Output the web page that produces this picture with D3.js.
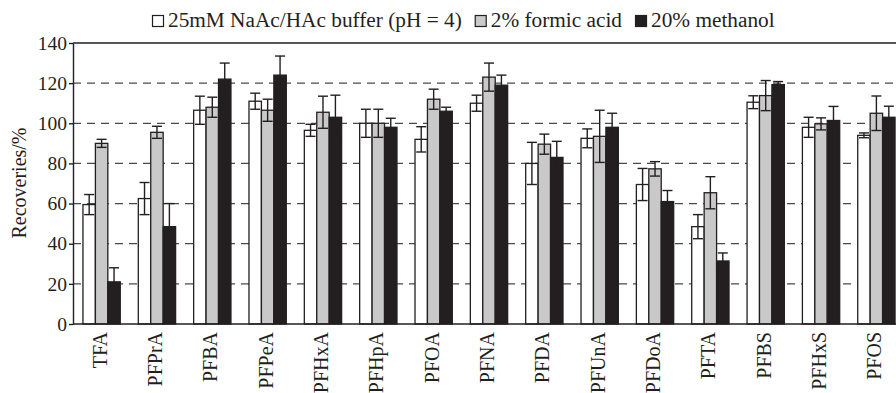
<!DOCTYPE html>
<meta charset="utf-8">
<style>
body { margin: 0; background: #fff; }
text { font-family: "Liberation Serif", "Times New Roman", serif; fill: #231f20; }
.axis .domain { stroke: #231f20; stroke-width: 1.4; }
.axis line { stroke: #231f20; stroke-width: 1.4; }
</style>
<svg width="896" height="393"></svg>
<script src="https://d3js.org/d3.v7.min.js"></script>
<script>

var categories = ["TFA", "PFPrA", "PFBA", "PFPeA", "PFHxA", "PFHpA", "PFOA", "PFNA",
                  "PFDA", "PFUnA", "PFDoA", "PFTA", "PFBS", "PFHxS", "PFOS"];

// recoveries (%) and error (+/-) for each extraction solution
var buffer      = [59.5, 62.5, 106.5, 111, 96.5, 100, 92, 110, 80, 92.5, 69.5, 48.5, 110.5, 98, 94];
var bufferErr   = [5, 8, 7, 4, 3, 7, 6.3, 4, 10.5, 4.7, 8, 6, 3.2, 5, 1.2];
var formic      = [90, 95.5, 108, 106.5, 105.5, 100, 112, 123, 89.6, 93.5, 77.3, 65.4, 113.8, 99.7, 105];
var formicErr   = [2, 3, 5, 5.5, 8, 7, 5, 7, 5, 13, 3.6, 8, 7.5, 3, 8.6];
var methanol    = [21, 48.5, 122, 124, 103, 98, 106, 119, 83, 98, 61, 31.4, 119.3, 101.4, 103];
var methanolErr = [7, 11.5, 8, 9.5, 11, 4.5, 2, 5, 8, 7, 5.5, 4, 1.5, 7, 5.5];

var seriesNames = ["25mM NaAc/HAc buffer (pH = 4)", "2% formic acid", "20% methanol"];
var yTicks = [0, 20, 40, 60, 80, 100, 120, 140];

var series = [
  {name: seriesNames[0], values: buffer, errs: bufferErr, fill: "#ffffff"},
  {name: seriesNames[1], values: formic, errs: formicErr, fill: "#c9c9c9"},
  {name: seriesNames[2], values: methanol, errs: methanolErr, fill: "#231f20"}
];

var svg = d3.select("svg"),
    plot = {left: 73, right: 905, top: 43, bottom: 324, clip: 896};

var x0 = d3.scaleBand()
    .domain(categories)
    .range([plot.left, plot.right])
    .paddingInner(0.326)
    .paddingOuter(0.18);

var x1 = d3.scaleBand()
    .domain(seriesNames)
    .range([0, x0.bandwidth()]);

var y = d3.scaleLinear()
    .domain([0, 140])
    .range([plot.bottom, plot.top]);

// dashed grid
svg.append("g")
  .selectAll("line")
  .data(yTicks.filter(function(d) { return d > 0 && d < 140; }))
  .enter().append("line")
    .attr("x1", plot.left).attr("x2", plot.clip)
    .attr("y1", function(d) { return y(d); })
    .attr("y2", function(d) { return y(d); })
    .attr("stroke", "#4a4a4a")
    .attr("stroke-width", 1.3)
    .attr("stroke-dasharray", "8,6");

// top frame
svg.append("line")
    .attr("x1", plot.left).attr("x2", plot.clip)
    .attr("y1", y(140)).attr("y2", y(140))
    .attr("stroke", "#231f20").attr("stroke-width", 1.4);

var rows = categories.map(function(c, i) {
  return series.map(function(s) {
    return {cat: c, key: s.name, value: s.values[i], err: s.errs[i], fill: s.fill};
  });
});

var groups = svg.append("g")
  .selectAll("g")
  .data(rows)
  .enter().append("g")
    .attr("transform", function(d, i) { return "translate(" + x0(categories[i]) + ",0)"; });

groups.selectAll("rect")
  .data(function(d) { return d; })
  .enter().append("rect")
    .attr("x", function(d) { return x1(d.key); })
    .attr("y", function(d) { return y(d.value); })
    .attr("width", x1.bandwidth())
    .attr("height", function(d) { return plot.bottom - y(d.value); })
    .attr("fill", function(d) { return d.fill; })
    .attr("stroke", "#231f20")
    .attr("stroke-width", 1.3);

var capW = 10;
var errs = groups.selectAll("g.err")
  .data(function(d) { return d; })
  .enter().append("g")
    .attr("class", "err")
    .attr("stroke", "#231f20")
    .attr("stroke-width", 1.4)
    .attr("transform", function(d) { return "translate(" + (x1(d.key) + x1.bandwidth() / 2) + ",0)"; });

errs.append("line")
    .attr("y1", function(d) { return y(d.value - d.err); })
    .attr("y2", function(d) { return y(d.value + d.err); });
errs.append("line")
    .attr("x1", -capW / 2).attr("x2", capW / 2)
    .attr("y1", function(d) { return y(d.value + d.err); })
    .attr("y2", function(d) { return y(d.value + d.err); });
errs.append("line")
    .attr("x1", -capW / 2).attr("x2", capW / 2)
    .attr("y1", function(d) { return y(d.value - d.err); })
    .attr("y2", function(d) { return y(d.value - d.err); });

// axes
svg.append("g")
    .attr("class", "axis")
    .attr("transform", "translate(" + plot.left + ",0)")
    .call(d3.axisLeft(y).tickValues(yTicks).tickSize(4).tickSizeOuter(0).tickPadding(2))
    .call(function(g) {
      g.selectAll("text")
        .attr("font-size", 19.5)
        .attr("font-family", "Liberation Serif")
        .attr("fill", "#231f20");
    });

var xAxis = svg.append("g")
    .attr("class", "axis")
    .attr("transform", "translate(0," + plot.bottom + ")")
    .call(d3.axisBottom(x0).tickSize(0).tickSizeOuter(0));

xAxis.select(".domain").attr("d", "M" + plot.left + ",0H" + plot.clip);
xAxis.selectAll("text")
    .attr("font-size", 20)
    .attr("font-family", "Liberation Serif")
    .attr("fill", "#231f20")
    .attr("transform", "rotate(-90)")
    .attr("x", -8)
    .attr("y", -2)
    .attr("dy", "0.35em")
    .style("text-anchor", "end");

// y title
svg.append("text")
    .attr("transform", "translate(26,183) rotate(-90)")
    .attr("text-anchor", "middle")
    .attr("font-size", 20)
    .text("Recoveries/%");

// legend
var legend = svg.append("g")
    .attr("font-size", 21.3)
    .attr("font-family", "Liberation Serif");
var lx = 152;
series.forEach(function(s) {
  legend.append("rect")
      .attr("x", lx + 0.5).attr("y", 15.5)
      .attr("width", 11).attr("height", 11)
      .attr("fill", s.fill)
      .attr("stroke", "#231f20")
      .attr("stroke-width", 1.2);
  var t = legend.append("text")
      .attr("x", lx + 16)
      .attr("y", 27)
      .text(s.name);
  lx += 16 + t.node().getComputedTextLength() + 13;
});

</script>
